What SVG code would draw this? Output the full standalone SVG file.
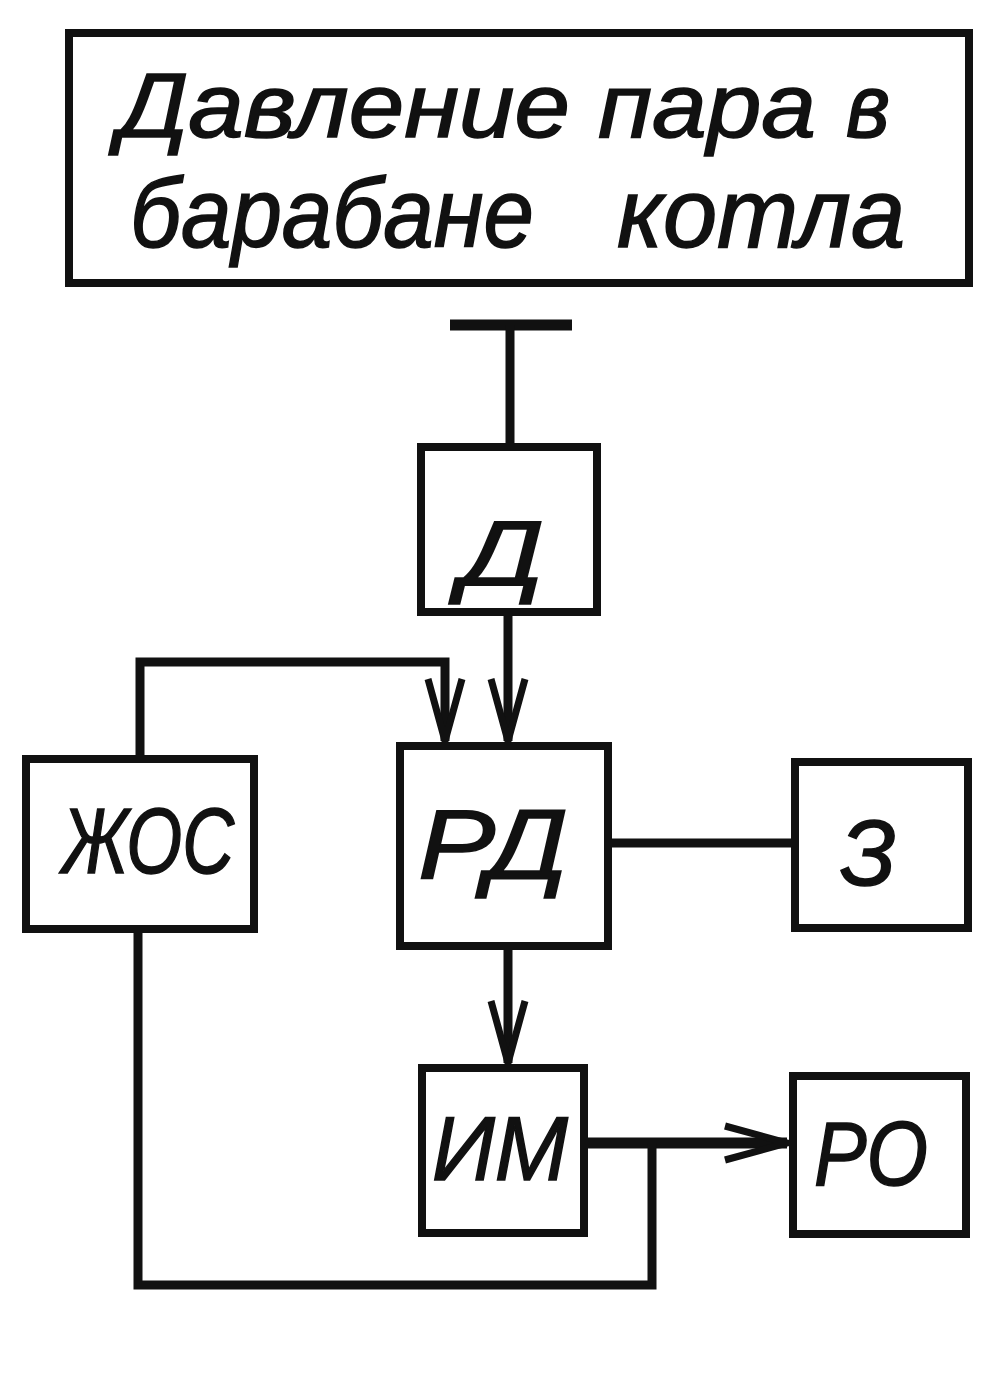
<svg xmlns="http://www.w3.org/2000/svg" width="1000" height="1375" viewBox="0 0 1000 1375">
<style>
.box{fill:#fff;stroke:#111;stroke-width:8}
.ln{fill:none;stroke:#111;stroke-width:9;stroke-linejoin:miter;stroke-linecap:butt}
.t{font-family:"Liberation Sans","DejaVu Sans",sans-serif;font-style:italic;fill:#111;stroke:#111;stroke-width:1.5;text-anchor:start}
</style>
<defs>
<marker id="arr" markerUnits="userSpaceOnUse" viewBox="-70 -25 80 50" refX="0" refY="0" markerWidth="80" markerHeight="50" orient="auto" overflow="visible">
<path d="M-62,-17 L0,0 L-62,17" fill="none" stroke="#111" stroke-width="7" stroke-linejoin="miter"/>
</marker>
</defs>
<rect width="1000" height="1375" fill="#fff"/>
<g id="connectors">
<path class="ln" d="M450,325 H572" style="stroke-width:11"/>
<path class="ln" d="M510,325 V445"/>
<path class="ln" d="M508,612 V741" marker-end="url(#arr)"/>
<path class="ln" d="M140,757 V662 H445 V741" marker-end="url(#arr)"/>
<path class="ln" d="M609,843 H794"/>
<path class="ln" d="M508,948 V1063" marker-end="url(#arr)"/>
<path class="ln" d="M584,1143 H787" marker-end="url(#arr)" style="stroke-width:11"/>
<path class="ln" d="M652,1143 V1285 H138 V928"/>
</g>
<g id="node-top">
<rect class="box" x="69" y="33" width="900" height="250"/>
<text class="t" x="118" y="137" font-size="90" textLength="452" lengthAdjust="spacingAndGlyphs">Давление</text>
<text class="t" x="598" y="137" font-size="90" textLength="218" lengthAdjust="spacingAndGlyphs">пара</text>
<text class="t" x="846" y="137" font-size="90" textLength="44" lengthAdjust="spacingAndGlyphs">в</text>
<text class="t" x="130" y="247" font-size="98" textLength="404" lengthAdjust="spacingAndGlyphs">барабане</text>
<text class="t" x="617" y="247" font-size="98" textLength="288" lengthAdjust="spacingAndGlyphs">котла</text>
</g>
<g id="node-D">
<rect class="box" x="421" y="447" width="176" height="165"/>
<text class="t" x="460" y="585" font-size="92" textLength="84" lengthAdjust="spacingAndGlyphs">Д</text>
</g>
<g id="node-ZhOS">
<rect class="box" x="26" y="759" width="228" height="170"/>
<text class="t" x="62" y="873" font-size="92" textLength="172" lengthAdjust="spacingAndGlyphs">ЖОС</text>
</g>
<g id="node-RD">
<rect class="box" x="400" y="746" width="208" height="200"/>
<text class="t" x="418" y="878" font-size="98" textLength="150" lengthAdjust="spacingAndGlyphs">РД</text>
</g>
<g id="node-Z">
<rect class="box" x="795" y="762" width="173" height="166"/>
<text class="t" x="840" y="885" font-size="92" textLength="56" lengthAdjust="spacingAndGlyphs">З</text>
</g>
<g id="node-IM">
<rect class="box" x="422" y="1068" width="162" height="165"/>
<text class="t" x="432" y="1180" font-size="90" textLength="136" lengthAdjust="spacingAndGlyphs">ИМ</text>
</g>
<g id="node-RO">
<rect class="box" x="793" y="1076" width="173" height="158"/>
<text class="t" x="814" y="1185" font-size="90" textLength="114" lengthAdjust="spacingAndGlyphs">РО</text>
</g>
</svg>
